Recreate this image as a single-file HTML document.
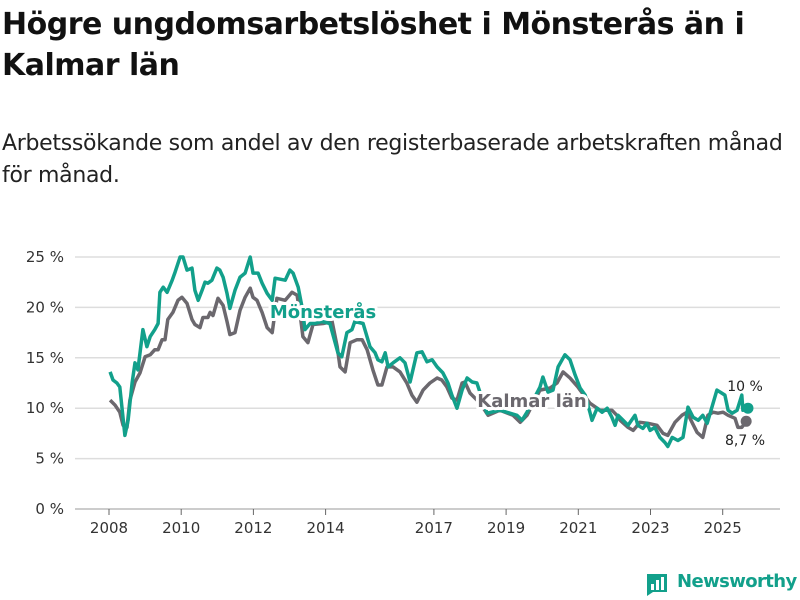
<!DOCTYPE html>
<html><head><meta charset="utf-8"><style>
body{margin:0;width:800px;height:600px;background:#fff;font-family:"Liberation Sans","DejaVu Sans",sans-serif;overflow:hidden;position:relative}
h1{position:absolute;left:2px;top:4px;margin:0;font-size:30px;line-height:41px;font-weight:bold;color:#111;font-family:"DejaVu Sans","Liberation Sans",sans-serif;letter-spacing:-0.5px}
.sub{position:absolute;left:2px;top:128px;font-size:22px;line-height:32px;color:#222;font-family:"DejaVu Sans","Liberation Sans",sans-serif;letter-spacing:-0.3px}
</style></head><body>
<h1>Högre ungdomsarbetslöshet i Mönsterås än i<br>Kalmar län</h1>
<div class="sub">Arbetssökande som andel av den registerbaserade arbetskraften månad<br>för månad.</div>
<svg id="chart" width="800" height="600" style="position:absolute;left:0;top:0"></svg>
<script>
const yTicks=[0,5,10,15,20,25];
const xTickYears=[2008,2010,2012,2014,2017,2019,2021,2023,2025];
const monT=[0.03,0.11,0.22,0.30,0.44,0.53,0.64,0.72,0.80,0.94,1.05,1.14,1.27,1.36,1.41,1.50,1.61,1.75,1.83,1.97,2.05,2.16,2.30,2.38,2.47,2.58,2.66,2.74,2.85,2.99,3.07,3.16,3.27,3.35,3.49,3.63,3.77,3.91,3.99,4.13,4.24,4.38,4.52,4.60,4.88,5.01,5.10,5.24,5.35,5.43,5.57,5.71,5.90,6.12,6.34,6.45,6.59,6.73,6.81,7.04,7.23,7.37,7.45,7.56,7.65,7.73,7.87,8.06,8.20,8.34,8.53,8.67,8.81,8.95,9.09,9.25,9.39,9.50,9.64,9.78,9.92,10.06,10.19,10.33,10.47,10.83,11.30,11.44,11.58,11.94,12.02,12.16,12.30,12.44,12.63,12.77,12.91,13.05,13.19,13.32,13.38,13.52,13.66,13.80,13.93,14.02,14.10,14.24,14.38,14.57,14.65,14.79,14.90,14.99,15.12,15.26,15.40,15.48,15.60,15.76,15.90,16.04,16.18,16.32,16.45,16.57,16.70,16.84,16.93,17.06,17.15,17.26,17.40,17.53,17.56,17.70];
const monV=[13.6,12.8,12.5,12.1,7.3,8.8,12.5,14.5,13.8,17.8,16.1,17.1,17.8,18.4,21.5,22,21.5,22.7,23.5,25,25,23.7,23.9,21.7,20.7,21.7,22.5,22.4,22.7,23.9,23.7,23,21.4,19.9,21.7,23,23.4,25,23.4,23.4,22.4,21.4,20.7,22.9,22.7,23.7,23.4,22,20,17.8,18.4,18.4,18.6,18.4,15.5,15.1,17.5,17.8,18.6,18.4,16.1,15.5,14.8,14.6,15.5,14.1,14.5,15,14.5,12.6,15.5,15.6,14.6,14.8,14.1,13.5,12.5,11.3,10,11.8,13,12.6,12.5,11,9.5,9.8,9.3,8.8,9.6,12.1,13.1,11.6,11.8,14.1,15.3,14.8,13.3,12,11.3,9.6,8.8,10,9.6,10,9.1,8.3,9.3,8.8,8.3,9.3,8.3,8,8.5,7.8,8.1,7.1,6.6,6.2,7.1,6.8,7.1,10.1,9.1,8.8,9.3,8.5,10.1,11.8,11.6,11.3,9.8,9.5,9.8,11.3,9.8,10];
const kalT=[0.03,0.17,0.30,0.39,0.50,0.58,0.72,0.86,1.00,1.14,1.27,1.36,1.47,1.55,1.63,1.77,1.91,2.02,2.16,2.30,2.38,2.52,2.60,2.74,2.80,2.88,3.02,3.16,3.27,3.35,3.49,3.63,3.77,3.91,3.99,4.10,4.24,4.38,4.52,4.65,4.88,5.07,5.21,5.29,5.37,5.51,5.65,5.93,6.18,6.32,6.40,6.54,6.68,6.87,7.01,7.15,7.31,7.45,7.56,7.70,7.87,8.06,8.25,8.39,8.53,8.70,8.89,9.09,9.22,9.36,9.50,9.64,9.78,9.86,10.00,10.28,10.50,10.83,11.19,11.39,11.58,11.94,12.22,12.41,12.58,12.77,12.99,13.05,13.32,13.60,13.93,14.07,14.16,14.38,14.52,14.71,14.93,15.18,15.35,15.48,15.68,15.87,16.01,16.15,16.29,16.45,16.59,16.73,16.87,17.01,17.15,17.34,17.42,17.53,17.65];
const kalV=[10.8,10.3,9.6,8.3,8.1,10.8,12.6,13.5,15.1,15.3,15.8,15.8,16.8,16.8,18.8,19.5,20.7,21,20.4,18.8,18.3,18,19,19,19.5,19.2,20.9,20.2,18.6,17.3,17.5,19.7,21,21.9,21,20.7,19.5,18,17.5,20.9,20.7,21.5,21.2,19.4,17.1,16.5,18.3,18.4,18.6,16.1,14.1,13.6,16.5,16.8,16.8,15.8,13.8,12.3,12.3,14.1,14.1,13.6,12.5,11.3,10.6,11.8,12.5,13,12.8,12.1,11,10.8,12.5,12.6,11.5,10.5,9.3,9.8,9.3,8.6,9.3,11.8,12,12.5,13.6,13,12.1,11.8,10.5,9.8,9.8,9.3,8.8,8.1,7.8,8.6,8.5,8.3,7.5,7.3,8.6,9.3,9.6,8.6,7.6,7.1,9.3,9.6,9.5,9.6,9.3,9,8.1,8.1,8.7];
const NS='http://www.w3.org/2000/svg';
const svg=document.getElementById('chart');
const X=t=>109+t*36.1;
const XY=y=>109+(y-2008)*36.1;
const Y=v=>509-v*10.08;
function mk(tag,attrs,parent){const e=document.createElementNS(NS,tag);for(const k in attrs)e.setAttribute(k,attrs[k]);(parent||svg).appendChild(e);return e;}
yTicks.forEach(v=>{
  const l=mk('line',{x1:75,x2:780,y1:Y(v),y2:Y(v),stroke:v===0?'#bbb':'#ddd','stroke-width':1.5});
  
  
  const t=mk('text',{x:64,y:Y(v)+5,'text-anchor':'end','font-size':15,fill:'#333','font-family':'DejaVu Sans, Liberation Sans, sans-serif'});
  t.textContent=v+' %';
  
  
});
xTickYears.forEach(yr=>{
  const l=mk('line',{x1:XY(yr),x2:XY(yr),y1:509,y2:515,stroke:'#666','stroke-width':1});
  
  
  const t=mk('text',{x:XY(yr),y:533,'text-anchor':'middle','font-size':15,fill:'#333','font-family':'DejaVu Sans, Liberation Sans, sans-serif'});
  t.textContent=yr;
  
  
});
function line(ts,vs,col,name){
  const d=ts.map((t,i)=>(i?'L':'M')+X(t).toFixed(1)+','+Y(vs[i]).toFixed(1)).join('');
  const p=mk('path',{d:d,fill:'none',stroke:col,'stroke-width':3.5,'stroke-linejoin':'round'});
  
  
  const n=ts.length-1;
  const c=mk('circle',{cx:X(ts[n]),cy:Y(vs[n]),r:5.5,fill:col});
  
  
}
line(kalT,kalV,'#6b686e','kalmar-lan-line');
line(monT,monV,'#12a08b','monsteras-line');
function label(x,y,txt,col,name,anchor,size,weight){
  const t=mk('text',{x:x,y:y,'text-anchor':anchor,'font-size':size,'font-weight':weight,fill:col,stroke:'#fff','stroke-width':weight==='bold'?6:4,'paint-order':'stroke','stroke-linejoin':'round','font-family':'DejaVu Sans, Liberation Sans, sans-serif'});
  t.textContent=txt;
  
  
}
label(323,318,'Mönsterås','#12a08b','monsteras-label','middle',18,'bold');
label(532,407,'Kalmar län','#6b686e','kalmar-lan-label','middle',18,'bold');
label(745,391,'10 %','#222','monsteras-end-value','middle',14,'normal');
label(745,445,'8,7 %','#222','kalmar-end-value','middle',14,'normal');
</script>
<div style="position:absolute;left:645px;top:570px;width:152px;height:26px">
<svg width="24" height="26" style="position:absolute;left:0;top:0"><path d="M2 4h20v18H8l-6 4z" fill="#12a08b"/><rect x="6" y="14" width="3" height="6" fill="#fff"/><rect x="11" y="10" width="3" height="10" fill="#fff"/><rect x="16" y="7" width="3" height="13" fill="#fff"/></svg>
<span style="position:absolute;left:32px;top:1px;font-size:18px;font-weight:bold;color:#12a08b;font-family:'DejaVu Sans','Liberation Sans',sans-serif;letter-spacing:-0.6px">Newsworthy</span>
</div>
</body></html>
